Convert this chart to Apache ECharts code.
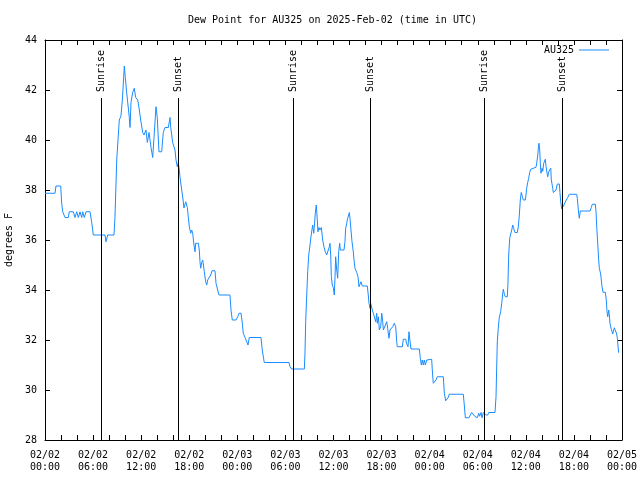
<!DOCTYPE html>
<html>
<head>
<meta charset="utf-8">
<script src="https://cdn.jsdelivr.net/npm/echarts@6/dist/echarts.min.js"></script>
<style>html,body{margin:0;padding:0;background:#fff}#c{width:640px;height:480px}</style>
</head>
<body>
<div id="c"></div>
<script>
// Hours since 2025-02-02 00:00 UTC
const hours = [0,1.25,1.37,1.96,2.08,2.21,2.50,2.91,3.03,3.53,3.74,3.96,4.16,4.37,4.58,4.70,4.90,5.12,5.62,5.83,6.03,7.49,7.61,7.82,8.61,8.73,8.95,9.15,9.27,9.48,9.65,9.90,10.02,10.19,10.52,10.61,10.73,10.94,11.14,11.32,11.57,11.77,11.94,12.19,12.35,12.60,12.77,12.98,13.23,13.44,13.60,13.85,14.01,14.22,14.56,14.76,14.97,15.39,15.60,15.69,15.93,16.22,16.35,16.51,16.63,16.76,16.85,17.06,17.26,17.34,17.56,17.76,17.88,18.01,18.18,18.31,18.43,18.59,18.72,18.80,19.13,19.25,19.34,19.43,19.55,19.68,19.88,20.05,20.18,20.30,20.46,20.68,20.84,21.21,21.34,21.55,21.71,23.08,23.21,23.37,23.83,24.05,24.21,24.46,24.62,24.74,24.96,25.17,25.33,25.49,26.95,27.11,27.36,30.45,30.57,30.78,32.36,32.44,32.53,32.66,32.78,32.91,33.07,33.19,33.32,33.40,33.53,33.60,33.73,33.85,33.98,34.06,34.19,34.31,34.48,34.65,34.81,34.98,35.15,35.35,35.48,35.56,35.65,35.73,35.85,35.97,36.10,36.19,36.27,36.40,36.52,36.65,36.77,36.85,36.97,37.31,37.43,37.52,37.65,37.77,37.90,37.97,38.06,38.18,38.31,38.47,38.56,38.68,38.90,39.06,39.18,39.31,39.43,39.59,40.22,40.34,40.43,40.56,40.64,40.77,40.84,40.97,41.09,41.27,41.39,41.47,41.60,41.72,41.89,42.02,42.14,42.22,42.43,42.64,42.76,42.92,43.05,43.26,43.38,43.59,43.76,43.89,43.96,44.59,44.71,45.01,45.13,45.30,45.42,45.55,45.67,46.71,46.83,46.96,47.08,47.21,47.33,47.46,47.63,48.25,48.33,48.45,48.67,48.79,48.95,49.70,49.83,50.00,50.20,50.32,50.45,52.20,52.32,52.45,52.91,53.07,53.25,53.45,53.62,53.78,53.95,54.12,54.24,54.41,54.54,54.70,54.87,55.00,55.12,55.25,55.37,56.15,56.28,56.37,56.44,56.56,56.69,56.86,56.99,57.11,57.19,57.31,57.44,57.69,57.77,57.86,57.99,58.11,58.24,58.36,58.49,58.65,58.94,59.06,59.18,59.31,59.43,59.56,59.68,59.93,60.02,60.11,60.23,60.36,60.48,60.61,60.73,61.27,61.36,61.48,61.56,61.64,61.73,61.81,61.89,62.02,62.11,62.23,62.36,62.43,62.52,62.65,62.73,62.86,62.98,63.11,63.18,63.36,63.43,63.64,63.77,63.93,64.18,64.26,64.35,64.48,64.60,64.76,64.89,65.05,65.23,65.42,66.35,66.42,66.51,66.59,66.67,66.80,68.01,68.17,68.30,68.67,68.76,68.85,68.97,69.09,69.17,69.34,69.51,69.63,69.92,70.04,70.13,70.22,70.34,70.42,70.50,70.63,70.84,70.96,71.04,71.21,71.34,71.42,71.50,71.59];
const dewF = [37.87,37.87,38.16,38.16,37.47,37.13,36.9,36.9,37.13,37.13,36.9,37.13,36.9,37.13,36.9,37.13,36.9,37.13,37.13,36.7,36.2,36.2,35.93,36.2,36.2,36.9,39.2,40.2,40.8,40.96,41.6,42.96,42.5,41.9,40.9,40.5,41.5,41.9,42.07,41.7,41.6,41.2,40.8,40.3,40.2,40.4,39.9,40.3,39.7,39.3,40.1,41.33,40.9,39.53,39.53,40.3,40.5,40.5,40.9,40.5,39.9,39.6,39.2,38.93,39.1,38.8,38.5,38.0,37.53,37.28,37.53,37.3,36.93,36.53,36.27,36.4,36.27,35.8,35.53,35.87,35.87,35.6,35.13,34.87,35.1,35.2,34.73,34.33,34.2,34.4,34.45,34.6,34.77,34.77,34.27,34.0,33.8,33.8,33.2,32.8,32.8,32.93,33.07,33.07,32.67,32.27,32.1,32.05,31.8,32.1,32.1,31.6,31.1,31.1,30.93,30.84,30.84,31.47,32.73,33.8,34.73,35.4,35.8,36.13,36.43,36.6,36.27,36.5,37.07,37.4,36.8,36.33,36.5,36.4,36.5,36.0,35.73,35.53,35.4,35.4,35.73,35.87,35.4,34.53,34.2,34.1,33.8,34.53,35.33,34.8,34.47,35.53,35.87,35.6,35.6,35.6,35.93,36.47,36.67,36.87,37.0,37.1,36.87,36.4,35.93,35.53,35.2,34.87,34.7,34.53,34.13,34.2,34.33,34.16,34.16,33.8,33.47,33.27,33.47,33.4,33.2,33.07,32.93,32.73,33.07,32.67,32.93,32.4,32.53,33.07,32.73,32.4,32.47,32.73,32.47,32.07,32.4,32.4,32.53,32.67,32.53,31.93,31.73,31.73,32.03,32.03,31.85,31.73,32.33,31.95,31.64,31.64,31.27,31.0,31.2,31.0,31.2,31.0,31.2,31.23,30.8,30.27,30.27,30.4,30.53,30.53,29.87,29.57,29.57,29.7,29.83,29.83,29.4,28.89,28.89,29.0,29.1,29.1,28.95,28.89,28.89,29.07,28.95,29.1,28.89,29.1,29.05,29.0,28.95,29.0,29.1,29.1,29.73,31.0,31.93,32.47,32.91,33.13,33.47,33.84,34.03,33.85,33.73,33.73,34.27,35.4,36.07,36.24,36.4,36.6,36.45,36.3,36.3,36.53,36.96,37.6,37.9,37.75,37.6,37.6,37.8,38.07,38.3,38.47,38.7,38.83,38.91,38.91,39.09,39.36,39.67,39.87,39.6,39.07,38.67,38.87,38.75,39.07,39.13,39.23,38.95,38.67,38.53,38.73,38.8,38.87,38.4,38.07,37.9,37.9,38.0,38.24,38.24,37.9,37.53,37.24,37.24,37.4,37.5,37.6,37.7,37.83,37.83,37.67,37.36,37.07,36.87,37.16,37.16,37.3,37.43,37.43,37.13,36.5,35.87,35.2,34.87,34.64,34.13,33.91,33.91,33.6,33.13,32.93,33.2,33.0,32.67,32.47,32.24,32.24,32.49,32.49,32.24,32.07,31.76,31.49];
const xTickLabels = ['02/02\n00:00','02/02\n06:00','02/02\n12:00','02/02\n18:00','02/03\n00:00','02/03\n06:00','02/03\n12:00','02/03\n18:00','02/04\n00:00','02/04\n06:00','02/04\n12:00','02/04\n18:00','02/05\n00:00'];
const sunriseHours = [7.03, 30.99, 54.82];
const sunsetHours = [16.64, 40.6, 64.55];
const seriesName = 'AU325';
const titleText = 'Dew Point for AU325 on 2025-Feb-02 (time in UTC)';
const yName = 'degrees F';

const FONT = 'DejaVu Sans Mono';
const lineEnd = 41.68, labelStart = 41.92, yMin = 28, yMax = 44;

const events = [];
sunriseHours.forEach(t => events.push({t, name: 'Sunrise'}));
sunsetHours.forEach(t => events.push({t, name: 'Sunset'}));
const mlData = [];
events.forEach(e => {
  mlData.push([{coord: [e.t, yMin], label: {show: false}}, {coord: [e.t, lineEnd]}]);
  mlData.push([{coord: [e.t, labelStart], lineStyle: {width: 0, color: 'rgba(0,0,0,0)'}, label: {show: true, formatter: e.name, opacity: 1, color: '#000'}}, {coord: [e.t, yMax]}]);
});

const tickCommon = {show: true, inside: true, length: 5, lineStyle: {color: '#000', width: 1}};
const xBase = {
  type: 'value', min: 0, max: 72, interval: 6,
  axisLine: {show: true, onZero: false, lineStyle: {color: '#000', width: 1}},
  axisTick: tickCommon,
  minorTick: {show: true, splitNumber: 3, length: 5, lineStyle: {color: '#000', width: 1}},
  splitLine: {show: false}, minorSplitLine: {show: false}
};
const yBase = {
  type: 'value', min: yMin, max: yMax, interval: 2,
  axisLine: {show: true, onZero: false, lineStyle: {color: '#000', width: 1}},
  axisTick: tickCommon,
  splitLine: {show: false}
};

const chart = echarts.init(document.getElementById('c'), null, {renderer: 'canvas'});
chart.setOption({
  animation: false,
  backgroundColor: '#fff',
  textStyle: {fontFamily: FONT},
  title: {text: titleText, left: 183, top: 10, textStyle: {fontFamily: FONT, fontSize: 10, fontWeight: 'normal', color: '#000'}},
  legend: {data: [seriesName], right: 26, top: 40, align: 'right', icon: 'rect', itemWidth: 30, itemHeight: 1, textStyle: {fontFamily: FONT, fontSize: 10, color: '#000'}},
  grid: {left: 45, right: 18, top: 40, bottom: 40, containLabel: false, outerBoundsMode: 'none'},
  xAxis: [
    Object.assign({}, xBase, {position: 'bottom', axisLabel: {show: true, margin: 9, fontFamily: FONT, fontSize: 10, color: '#000', lineHeight: 12, formatter: v => xTickLabels[Math.round(v / 6)]}}),
    Object.assign({}, xBase, {position: 'top', axisLabel: {show: false}})
  ],
  yAxis: [
    Object.assign({}, yBase, {position: 'left', name: yName, nameLocation: 'middle', nameGap: 30, nameRotate: 90, nameTextStyle: {fontFamily: FONT, fontSize: 10, color: '#000'}, axisLabel: {show: true, margin: 8, fontFamily: FONT, fontSize: 10, color: '#000'}}),
    Object.assign({}, yBase, {position: 'right', axisLabel: {show: false}})
  ],
  series: [{
    name: seriesName, type: 'line', xAxisIndex: 0, yAxisIndex: 0,
    data: hours.map((h, i) => [h, dewF[i]]),
    symbol: 'none', showSymbol: false, smooth: false,
    lineStyle: {color: '#1a8cff', width: 1}, itemStyle: {color: '#1a8cff'},
    markLine: {
      silent: true, symbol: ['none', 'none'], animation: false,
      lineStyle: {color: '#000', width: 1, type: 'solid'},
      label: {position: 'insideStart', distance: 0, color: '#000', fontFamily: FONT, fontSize: 10, padding: 0},
      emphasis: {disabled: true},
      data: mlData
    }
  }]
});
</script>
</body>
</html>
